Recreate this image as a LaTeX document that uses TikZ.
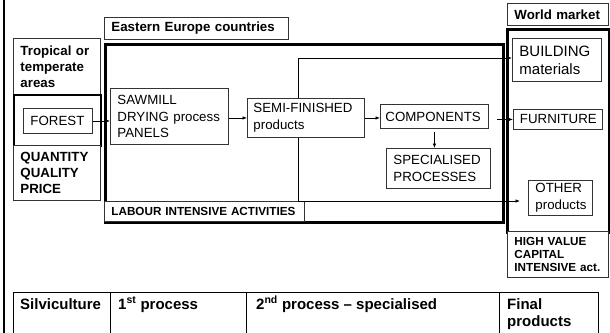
\documentclass[tikz,border=0pt]{standalone}
\usepackage{fontspec}
\setmainfont{Liberation Sans}
\usetikzlibrary{arrows.meta}
\begin{document}
\begin{tikzpicture}[x=1pt,y=-1pt,
  tb/.style={draw=black!80, line width=0.9pt, fill=white, inner ysep=0pt, anchor=north west, align=left},
  frame/.style={draw=black, line width=2.5pt, inner sep=0pt, anchor=north west},
  fr/.style={font=\fontsize{13.3}{16.5}\selectfont},
  fb/.style={font=\fontsize{13.3}{16}\selectfont\bfseries},
  fs/.style={font=\fontsize{11.7}{13.2}\selectfont\bfseries},
  fl/.style={font=\fontsize{15}{18}\selectfont},
  ft/.style={font=\fontsize{15}{17}\selectfont\bfseries, inner sep=0pt, anchor=base west},
  arr/.style={draw=black, line width=0.7pt, -{Latex[length=4.5pt,width=3.5pt]}},
  ln/.style={draw=black, line width=0.7pt},
  tbl/.style={draw=black, line width=0.9pt}]
\useasboundingbox (0,0) rectangle (610,332);
\fill[white] (0,0) rectangle (610,332);
% page line
\draw[line width=2pt] (4,-2) -- (4,334);
% frames
\node[frame, minimum width=398pt, minimum height=178pt] (ee) at (104,43) {};
\node[frame, minimum width=102pt, minimum height=203pt] (wm) at (506,28) {};
% branch lines
\coordinate (bt) at (298,58);
\coordinate (bb) at (298,201);
\coordinate (oe) at (520,201);
\coordinate (fs) at (497,0);
\draw[ln] (bt) -- (bb);
% boxes
\node[tb, fb, minimum height=22pt, text width=170pt, inner xsep=7pt] (east) at (104,17) {Eastern Europe countries};
\node[tb, fb, minimum height=22pt, text width=87pt, inner xsep=7pt] (world) at (507,3) {World market};
\node[tb, fb, minimum height=56pt, text width=73pt, inner xsep=7pt] (trop) at (13,38) {Tropical or\\temperate\\areas};
\node[frame, line width=2pt, minimum width=87pt, minimum height=51pt] (fframe) at (13,94) {};
\node[tb, fr, minimum height=25pt, text width=55pt, inner xsep=7pt] (forest) at (23,108) {FOREST};
\node[tb, fb, minimum height=55pt, text width=73pt, inner xsep=7pt] (qty) at (13,145) {QUANTITY\\QUALITY\\PRICE};
\node[tb, fr, minimum height=56pt, text width=104pt, inner xsep=7pt] (saw) at (110,88) {SAWMILL\\DRYING process\\PANELS};
\node[tb, fr, minimum height=39pt, text width=105pt, inner xsep=6pt] (semi) at (247,98) {SEMI-FINISHED\\products};
\node[tb, fr, minimum height=24pt, text width=98pt, inner xsep=5pt] (comp) at (380,104) {COMPONENTS};
\node[tb, fr, minimum height=40pt, text width=90pt, inner xsep=7pt] (spec) at (386,148) {SPECIALISED\\PROCESSES};
\node[tb, fs, minimum height=20pt, text width=186pt, inner xsep=7pt] (lab) at (104,201) {LABOUR INTENSIVE ACTIVITIES};
\node[tb, fl, minimum height=43pt, text width=75pt, inner xsep=7pt] (bld) at (512,38) {BUILDING\\materials};
\node[tb, fr, minimum height=20pt, text width=76pt, inner xsep=6.5pt] (fur) at (513,109) {FURNITURE};
\node[tb, fr, minimum height=35pt, text width=50pt, inner xsep=7pt] (oth) at (528,180) {OTHER\\products};
\node[tb, fs, minimum height=46pt, text width=87pt, inner xsep=7pt] (high) at (507,231) {HIGH VALUE\\CAPITAL\\INTENSIVE act.};
% connectors
\draw[arr] (bt) -- (bt -| bld.west);
\draw[arr] (bb) -- (oe);
\draw[arr] (forest.east) -- (forest.east -| saw.west);
\draw[arr] (semi.west -| saw.east) -- (semi.west);
\draw[arr] (semi.east) -- (semi.east -| comp.west);
\draw[arr] (fs |- fur.west) -- (fur.west);
\draw[arr, shorten <=3pt] (comp.south) -- (comp.south |- spec.north);
% table
\draw[tbl] (13,345) -- (13,292) -- (598,292) -- (598,345);
\foreach \xx in {110,246,499} \draw[tbl] (\xx,292) -- (\xx,345);
\node[ft] (t1) at (20,309) {Silviculture};
\node[ft] (t2) at (118,309) {1\textsuperscript{st} process};
\node[ft] (t3) at (256,309) {2\textsuperscript{nd} process – specialised};
\node[ft] (t4) at (507,309) {Final};
\node[ft] (t5) at (507,326) {products};
\end{tikzpicture}
\end{document}
